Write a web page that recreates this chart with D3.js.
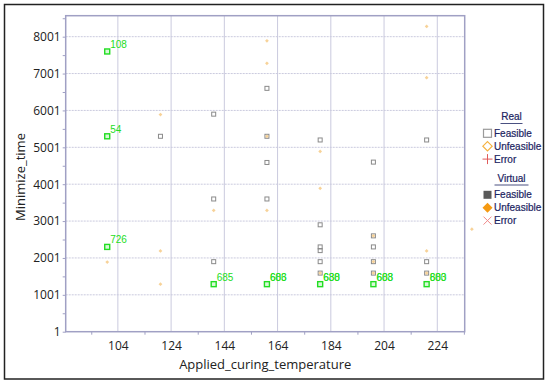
<!DOCTYPE html>
<html>
<head>
<meta charset="utf-8">
<script src="https://cdn.jsdelivr.net/npm/d3@7"></script>
<style>
  body { margin: 0; background: #fff; }
  #chart { width: 550px; height: 384px; }
</style>
</head>
<body>
<div id="chart"></div>
<script>
// tick values as printed on the axes
const xTicks = [104, 124, 144, 164, 184, 204, 224];
const xMinorTicks = [94, 114, 134, 154, 174, 194, 214, 234];
const yTicks = [1, 1001, 2001, 3001, 4001, 5001, 6001, 7001, 8001];
const yMinorTicks = [501, 1501, 2501, 3501, 4501, 5501, 6501, 7501, 8501];

// [temperature, time]
const realFeasible = [
  [120, 5300],
  [140, 5900], [140, 3600], [140, 1900],
  [160, 6600], [160, 5300], [160, 4590], [160, 3600],
  [180, 5200], [180, 2900], [180, 2300], [180, 2200], [180, 1900], [180, 1590],
  [200, 4600], [200, 2600], [200, 2300], [200, 1900], [200, 1590],
  [220, 5200], [220, 1900], [220, 1590]
];

const realUnfeasible = [
  [100, 1890],
  [120, 5890], [120, 2190], [120, 1290],
  [140, 3290],
  [160, 7890], [160, 7280], [160, 5300], [160, 3290],
  [180, 4890], [180, 3890], [180, 1590],
  [200, 2600], [200, 1900], [200, 1590],
  [220, 8280], [220, 6890], [220, 2190], [220, 1590],
  [237, 2780]
];

// highlighted runs, labels can overlap on the same point
const bestTemp = [100, 100, 100, 140, 160, 180, 200, 220];
const bestTime = [7600, 5300, 2300, 1290, 1290, 1290, 1290, 1290];
const bestLabels = [['108'], ['54'], ['726'], ['685'], ['686', '603'], ['688', '630'], ['608', '683'], ['683', '800']];

const legendReal = ['Feasible', 'Unfeasible', 'Error'];
const legendVirtual = ['Feasible', 'Unfeasible', 'Error'];

function drawChart() {
  const selector = '#chart';
  const width = 550;
  const height = 384;

  const plotArea = { left: 65.7, top: 15.7, right: 464.7, bottom: 331.7 };

  const gridColor = '#cacade';
  const frameColor = '#a0a0c4';
  const feasibleColor = '#8a8a8a';
  const unfeasibleColor = '#f5c77e';
  const bestColor = '#22dd22';
  const legendTextColor = '#1c2461';
  const font = '"Open Sans", "Noto Sans", sans-serif';
  const diamond = (size) => d3.symbol(d3.symbolDiamond2, size)();

  const svg = d3
    .select(selector)
    .append('svg')
    .attr('width', width)
    .attr('height', height);

  svg
    .append('rect')
    .attr('x', 4.5)
    .attr('y', 4.5)
    .attr('width', 539)
    .attr('height', 374.5)
    .attr('fill', '#fff')
    .attr('stroke', '#222')
    .attr('stroke-width', 1.5);

  const x = d3
    .scaleLinear()
    .domain([84.4, 234.3])
    .range([plotArea.left, plotArea.right]);

  const y = d3
    .scaleLinear()
    .domain([1, 8570])
    .range([plotArea.bottom, plotArea.top]);

  // grid
  svg
    .append('g')
    .attr('class', 'grid-x')
    .selectAll('line')
    .data(xTicks)
    .join('line')
    .attr('x1', (d) => x(d))
    .attr('x2', (d) => x(d))
    .attr('y1', plotArea.top)
    .attr('y2', plotArea.bottom)
    .attr('stroke', gridColor)
    .attr('stroke-width', 1);

  svg
    .append('g')
    .attr('class', 'grid-y')
    .selectAll('line')
    .data(yTicks.slice(1))
    .join('line')
    .attr('x1', plotArea.left)
    .attr('x2', plotArea.right)
    .attr('y1', (d) => y(d))
    .attr('y2', (d) => y(d))
    .attr('stroke', gridColor)
    .attr('stroke-dasharray', '2,1')
    .attr('stroke-width', 1);

  svg
    .append('rect')
    .attr('x', plotArea.left)
    .attr('y', plotArea.top)
    .attr('width', plotArea.right - plotArea.left)
    .attr('height', plotArea.bottom - plotArea.top)
    .attr('fill', 'none')
    .attr('stroke', frameColor)
    .attr('stroke-width', 1.5);

  // axes
  svg
    .append('g')
    .attr('transform', `translate(0, ${plotArea.bottom})`)
    .call(d3.axisBottom(x).tickValues(xTicks).tickSize(0).tickPadding(10));

  svg
    .append('g')
    .attr('transform', `translate(0, ${plotArea.bottom})`)
    .call(d3.axisBottom(x).tickValues(xMinorTicks).tickSize(3).tickFormat(''));

  svg
    .append('g')
    .attr('transform', `translate(${plotArea.left}, 0)`)
    .call(
      d3.axisLeft(y).tickValues(yTicks).tickSize(3).tickPadding(2).tickFormat(d3.format('d'))
    );

  svg
    .append('g')
    .attr('transform', `translate(${plotArea.left}, 0)`)
    .call(d3.axisLeft(y).tickValues(yMinorTicks).tickSize(3).tickFormat(''));

  svg.selectAll('.domain').remove();
  svg.selectAll('.tick line').attr('stroke', frameColor);
  svg
    .selectAll('.tick text')
    .attr('fill', '#222')
    .style('font-family', font)
    .style('font-size', '12px');

  // axis titles
  svg
    .append('text')
    .attr('x', (plotArea.left + plotArea.right) / 2)
    .attr('y', 369)
    .attr('text-anchor', 'middle')
    .attr('fill', '#222')
    .style('font-family', font)
    .style('font-size', '13px')
    .text('Applied_curing_temperature');

  svg
    .append('text')
    .attr('transform', 'translate(25, 177) rotate(-90)')
    .attr('text-anchor', 'middle')
    .attr('fill', '#222')
    .style('font-family', font)
    .style('font-size', '13px')
    .text('Minimize_time');

  // marks
  svg
    .append('g')
    .attr('class', 'real-feasible')
    .selectAll('rect')
    .data(realFeasible)
    .join('rect')
    .attr('x', (d) => x(d[0]) - 2)
    .attr('y', (d) => y(d[1]) - 2)
    .attr('width', 4)
    .attr('height', 4)
    .attr('fill', 'none')
    .attr('stroke', feasibleColor)
    .attr('stroke-width', 1);

  svg
    .append('g')
    .attr('class', 'real-unfeasible')
    .selectAll('path')
    .data(realUnfeasible)
    .join('path')
    .attr('transform', (d) => `translate(${x(d[0])}, ${y(d[1])})`)
    .attr('d', diamond(9))
    .attr('fill', unfeasibleColor)
    .attr('opacity', 0.8);

  const best = svg
    .append('g')
    .attr('class', 'best')
    .selectAll('g')
    .data(d3.range(bestTemp.length))
    .join('g')
    .attr('transform', (i) => `translate(${x(bestTemp[i])}, ${y(bestTime[i])})`);

  best
    .append('rect')
    .attr('x', -2.5)
    .attr('y', -2.5)
    .attr('width', 5)
    .attr('height', 5)
    .attr('fill', '#d8f8d8')
    .attr('stroke', bestColor)
    .attr('stroke-width', 1.4);

  best
    .selectAll('text')
    .data((i) => bestLabels[i])
    .join('text')
    .attr('x', 3)
    .attr('y', -3.5)
    .attr('fill', bestColor)
    .style('font-family', 'Liberation Sans, Arial, sans-serif')
    .style('font-size', '10px')
    .text((d) => d);

  // legend
  const legend = svg.append('g').attr('transform', 'translate(511.5, 0)');
  const legendFont = (sel) =>
    sel
      .attr('fill', legendTextColor)
      .attr('stroke', legendTextColor)
      .attr('stroke-width', 0.2)
      .style('font-family', 'Liberation Sans, Arial, sans-serif')
      .style('font-size', '10px');

  function legendBlock(title, items, top, symbols) {
    legend
      .append('text')
      .attr('x', 0)
      .attr('y', top)
      .attr('text-anchor', 'middle')
      .call(legendFont)
      .text(title);
    legend
      .append('line')
      .attr('x1', title === 'Real' ? -11 : -17)
      .attr('x2', title === 'Real' ? 11 : 17)
      .attr('y1', top + 3.5)
      .attr('y2', top + 3.5)
      .attr('stroke', legendTextColor)
      .attr('stroke-width', 0.8);
    const rows = legend
      .append('g')
      .selectAll('g')
      .data(items)
      .join('g')
      .attr('transform', (d, i) => `translate(-24, ${top + 13.3 + i * 12.9})`);
    rows.each(function (d, i) {
      symbols[i](d3.select(this));
    });
    rows
      .append('text')
      .attr('x', 6.5)
      .attr('y', 0)
      .attr('dy', '0.35em')
      .call(legendFont)
      .text((d) => d);
  }

  legendBlock('Real', legendReal, 120, [
    (g) => g.append('rect').attr('x', -4).attr('y', -4).attr('width', 8).attr('height', 8)
      .attr('fill', '#fff').attr('stroke', '#9a9a9a').attr('stroke-width', 1.2),
    (g) => g.append('path').attr('d', diamond(55))
      .attr('fill', '#fff').attr('stroke', '#f5b240').attr('stroke-width', 1.2),
    (g) => g.append('path').attr('d', 'M-5,0H5M0,-5V5').attr('stroke', '#e05a5a')
  ]);

  legendBlock('Virtual', legendVirtual, 181.5, [
    (g) => g.append('rect').attr('x', -4).attr('y', -4).attr('width', 8).attr('height', 8)
      .attr('fill', '#5a5a5a'),
    (g) => g.append('path').attr('d', diamond(64))
      .attr('fill', '#f59a12'),
    (g) => g.append('path').attr('d', 'M-4,-4L4,4M-4,4L4,-4').attr('stroke', '#f08a8a')
  ]);
}

drawChart();
</script>
</body>
</html>
